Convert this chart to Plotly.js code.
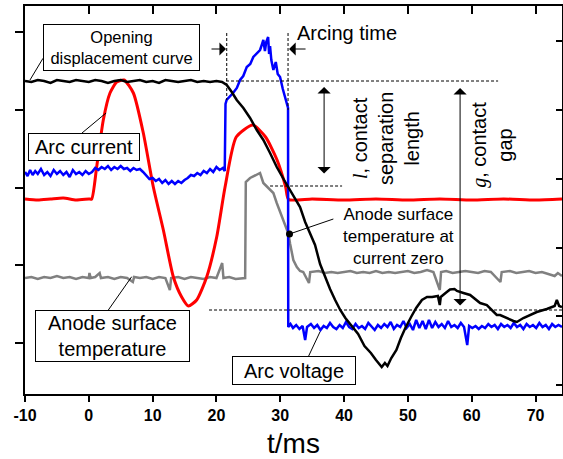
<!DOCTYPE html>
<html><head><meta charset="utf-8">
<script src="https://cdn.plot.ly/plotly-3.0.1.min.js"></script>
<style>html,body{margin:0;padding:0;background:#fff}</style>
</head><body><div id="chart" style="width:563px;height:459px"></div>
<script>
// time axis in ms; y values in arbitrary display units (no y labels in the original)
const xTickVals = [-10,0,10,20,30,40,50,60,70];
const xTickText = ['-10','0','10','20','30','40','50','60','70'];

const timeDisp = [-10,-9,-8,-7,-6,-5,-4,-3,-2,-1,0,1,2,3,4,5,6,7,8,9,10,11,12,13,14,15,16,17,18,19,20,20.88,21.61,22.4,23.18,24.22,25.27,26.32,27.35,28.4,29.45,30.6,31.38,32.2,33.1,33.9,34.7,35.45,36.24,37.0,37.8,38.6,39.4,40.2,41.2,42.2,43.2,44.2,45.0,45.5,45.9,46.4,46.8,47.4,48.2,48.9,49.6,50.5,51.3,52.2,53.0,53.8,54.7,55.0,55.15,55.9,56.6,57.3,57.7,58.7,59.75,61.32,62.37,63.93,64.45,66.54,67.07,68.1,70.2,71.77,72.3,73.0,73.34,73.7,74.15];
const displacement = [313,312,314,313,311,314,313,312,314,313,312,314,313,311,313,314,312,313,314,312,313,311,314,313,312,313,314,312,313,312,313,312,309,302,294,286,276,264,254,241,227,214,206,197,187,172,160,149,130,117,105,94,84,76,68,60,48,41,34,30,27,31,28,36,44,56,66,77,86,94,97,97,98,89,97,101,104.5,105,103,101,99,91,89,79,79,73,72,76,82,85,86,88,94,88,87];

const timeCurrent = [-10,-8,-6,-4,-2,0,0.45,1.23,2.27,3.32,4.37,5.52,6.98,8.54,10.11,11.68,13.25,14.55,15.6,16.9,18.47,20.04,21.35,23.1,25.7,27.7,29.5,30.85,31.3,35,40,45,50,55,60,65,70,74.15];
const arcCurrent = [195,194,195,196,194,195,195,227,274,301,312,314,301,261,207,164,117,97,88,94,117,157,207,257,269,257,234,207,194.5,195,194,195,194,195,194,195,194,195];

const timeVoltage = [-10,-9.6,-9.2,-8.8,-8.4,-8,-7.5,-7,-6.5,-6,-5.5,-5,-4.5,-4,-3.5,-3,-2.5,-2,-1.5,-1,-0.5,0,0.5,1,1.5,2,2.5,3,3.5,4,4.5,5,5.5,6,6.5,7,7.5,8,8.5,9,9.5,10,10.5,11,11.5,12,12.5,13,13.5,14,14.5,15,15.5,16,16.5,17,17.5,18,18.5,19,19.5,20,20.5,21,21.3,21.42,21.6,22.6,23.2,23.7,24.2,24.75,25.3,25.78,26.3,26.83,27.1,27.35,27.6,27.8,28.1,28.25,28.4,28.6,28.92,29.3,29.6,29.97,30.4,30.75,31.1,31.22,31.25,31.6,32,32.5,33,33.5,33.9,34.2,34.8,35.3,35.8,36.3,36.8,37.3,37.8,38.3,38.8,39.3,39.8,40.3,40.8,41.3,41.8,42.3,42.8,43.3,43.8,44.3,44.8,45.3,45.8,46.3,46.8,47.3,47.8,48.3,48.8,49.3,49.8,50.3,50.8,51.3,51.8,52.3,52.8,53.3,53.8,54.3,54.8,55.3,55.8,56.3,56.8,57.3,57.8,58.3,58.8,59.3,59.6,60.1,60.6,61.1,61.6,62.1,62.6,63.1,63.6,64.1,64.6,65.1,65.6,66.1,66.6,67.1,67.6,68.1,68.6,69.1,69.6,70.1,70.6,71.1,71.6,72.1,72.6,73.1,73.6,74.15];
const arcVoltage = [222,218,224,219,223,220,225,219,222,218,224,220,223,219,222,217,224,220,222,219,223,220,222,226,224,227,225,228,224,227,225,228,225,226,223,226,224,225,222,218,215,216,213,215,211,214,210,213,210,213,211,214,216,219,218,221,219,223,221,225,222,227,224,226,223,290,294,301,306,314,318,327,330,337,341,344,349,354,343,352,357,340,348,334,324,332,320,317,305,296,287,286,67,70,66,69,65,68,54,67,70,66,69,64,68,66,71,67,65,69,66,72,67,65,70,66,68,65,71,67,64,69,66,70,67,72,65,69,67,73,66,70,64,74,66,73,65,74,66,72,67,70,66,73,67,69,66,71,67,49,68,66,68,65,68,66,70,67,69,65,70,67,69,66,71,67,69,65,70,67,69,66,71,67,69,65,70,67,69,67];

const timeTemp = [-10,-9,-8,-7,-6,-5,-4,-3,-2,-1,0,0.1,0.3,1,1.7,1.9,3,4,5,6,6.9,7.1,8,9,10,11,12,12.7,12.9,14,15,16,17,18,19,20,20.9,21.1,22,23,24.5,24.6,25.27,26,26.83,27.35,28.2,28.92,29.45,30.49,31.0,31.3,31.55,31.8,32.05,32.6,33.1,33.6,34.5,34.7,36,37,38,39,40,41,42,43,44,45,46,47,48,49,50,51,52,53,54,55,55.2,56,57,58,59,60,61,62,63,64.5,64.7,66,67,68,69,70,71,72,73,73.5,74.15];
const anodeTemp = [116,117,115,117,116,118,116,117,115,117,116,121,116,117,121,116,117,115,117,116,112,117,116,117,115,117,116,104,116,117,115,117,116,115,117,116,131,116,117,115,116,212,216,218,221,211,205,201,191,174,165,160,150,140,134,127,123,122,111,122,123,121,122,121,122,123,121,122,121,123,121,122,121,122,123,121,122,124,122,104,122,123,121,122,123,122,121,123,122,112,122,123,121,122,123,121,122,120,118,121,118];

const zeroCrossT = [31.45];
const zeroCrossTemp = [160];

const FONT = 'Liberation Sans, Arial, sans-serif';
const traces = [
  {x: timeTemp, y: anodeTemp, type:'scatter', mode:'lines', line:{color:'#808080', width:2.5}, hoverinfo:'skip'},
  {x: timeCurrent, y: arcCurrent, type:'scatter', mode:'lines', line:{color:'#ff0000', width:3, shape:'spline', smoothing:0.6}, hoverinfo:'skip'},
  {x: timeVoltage, y: arcVoltage, type:'scatter', mode:'lines', xaxis:'x2', yaxis:'y2', line:{color:'#0000ff', width:2.5}, hoverinfo:'skip'},
  {x: timeDisp, y: displacement, type:'scatter', mode:'lines', xaxis:'x2', yaxis:'y2', line:{color:'#000000', width:2.5}, hoverinfo:'skip'},
  {x: zeroCrossT, y: zeroCrossTemp, type:'scatter', mode:'markers', xaxis:'x2', yaxis:'y2', marker:{color:'#000', size:7}, hoverinfo:'skip'}
];

const XR = [-10, 74.15], YR = [0, 388];
const box = {bordercolor:'#000', borderwidth:1, bgcolor:'#fff', showarrow:false, xanchor:'center', yanchor:'middle'};
const txt = (size) => ({family: FONT, size: size, color:'#000'});
const ital = (c) => '<span style="font-family:Liberation Serif;font-style:italic">' + c + '</span>';

const annotations = [
  Object.assign({x:5.13, y:346.5, text:'Opening<br>displacement curve', font:txt(16.5), width:153, height:43, borderpad:1}, box),
  Object.assign({x:-0.72, y:247.3, text:'Arc current', font:txt(20), width:108, height:24, borderpad:1}, box),
  Object.assign({x:3.71, y:58.5, text:'Anode surface<br>temperature', font:txt(20), width:151, height:48, borderpad:1}, box),
  Object.assign({x:32.12, y:23.5, text:'Arc voltage', font:txt(20), width:120, height:25, borderpad:1}, box),
  {x:40.42, y:361, text:'Arcing time', showarrow:false, font:txt(20), xanchor:'center', yanchor:'middle'},
  {x:48.54, y:157.3, text:'Anode surface<br>temperature at<br>current zero', showarrow:false, font:txt(17), xanchor:'center', yanchor:'middle'},
  {x:46.58, y:255, text: ital('l') + ', contact<br>separation<br>length', textangle:-90, showarrow:false, font:txt(20), xanchor:'center', yanchor:'middle'},
  {x:63.15, y:249, text: ital('g') + ', contact<br>gap', textangle:-90, showarrow:false, font:txt(20), xanchor:'center', yanchor:'middle'}
];
const arrowBase = {text:'', showarrow:true, axref:'x', ayref:'y', arrowhead:1, arrowsize:2.2, arrowwidth:1, arrowcolor:'#000', standoff:0, startstandoff:0};
annotations.push(Object.assign({x:21.5, y:345, ax:18.99, ay:345}, arrowBase));
annotations.push(Object.assign({x:31.38, y:345, ax:34.2, ay:345}, arrowBase));
annotations.push(Object.assign({x:36.87, y:307, ax:36.87, ay:219, arrowside:'end+start', startarrowhead:1, startarrowsize:2.2}, arrowBase));
annotations.push(Object.assign({x:58.18, y:306, ax:58.18, ay:87, arrowside:'end+start', startarrowhead:1, startarrowsize:2.2}, arrowBase));

const dash = {color:'#000', width:1, dash:'3px,2px'};
const solid = {color:'#000', width:1};
const shapes = [
  {type:'line', x0:21.61, x1:21.61, y0:361, y1:294, line:dash},
  {type:'line', x0:31.22, x1:31.22, y0:361, y1:284, line:dash},
  {type:'line', x0:21.5, x1:64.14, y0:313, y1:313, line:dash},
  {type:'line', x0:28.4, x1:39.69, y0:208, y1:208, line:dash},
  {type:'line', x0:18.84, x1:74.15, y0:84, y1:84, line:dash},
  {type:'line', x0:-7.18, y0:335.7, x1:-9.22, y1:314, line:solid},
  {type:'line', x0:-1.07, y0:261, x1:2.70, y1:281, line:solid},
  {type:'line', x0:3.06, y0:84, x1:6.72, y1:117.3, line:solid},
  {type:'line', x0:34.4, y0:37.3, x1:36.24, y1:62.3, line:solid},
  {type:'line', x0:31.45, y0:160, x1:38.32, y1:175, line:solid}
];

const layout = {
  width:563, height:459,
  margin:{l:25, r:1, t:6, b:65, pad:0},
  paper_bgcolor:'#fff', plot_bgcolor:'#fff',
  showlegend:false,
  xaxis:{range:XR, tickmode:'array', tickvals:xTickVals, ticktext:xTickText, ticks:'outside', ticklen:6, tickwidth:2, tickcolor:'#000',
    showline:true, linewidth:2, linecolor:'#000', showgrid:false, zeroline:false,
    tickfont:{family:FONT, size:16, color:'#000', weight:'bold'},
    title:{text:'t/ms', font:{family:FONT, size:28, color:'#000'}}},
  xaxis2:{range:XR, overlaying:'x', side:'top', tickmode:'array', tickvals:xTickVals, ticks:'inside', ticklen:8, tickwidth:2, tickcolor:'#000',
    showline:true, linewidth:2, linecolor:'#000', showgrid:false, zeroline:false, showticklabels:false},
  yaxis:{range:YR, tick0:51.3, dtick:77.6, ticks:'outside', ticklen:8, tickwidth:2, tickcolor:'#000',
    showline:true, linewidth:2, linecolor:'#000', showgrid:false, zeroline:false, showticklabels:false},
  yaxis2:{range:YR, overlaying:'y', side:'right', tick0:8.7, dtick:68.86, ticks:'inside', ticklen:6, tickwidth:2, tickcolor:'#000',
    showline:true, linewidth:2, linecolor:'#000', showgrid:false, zeroline:false, showticklabels:false},
  annotations: annotations,
  shapes: shapes
};
Plotly.newPlot('chart', traces, layout, {displayModeBar:false, staticPlot:true});
</script></body></html>
